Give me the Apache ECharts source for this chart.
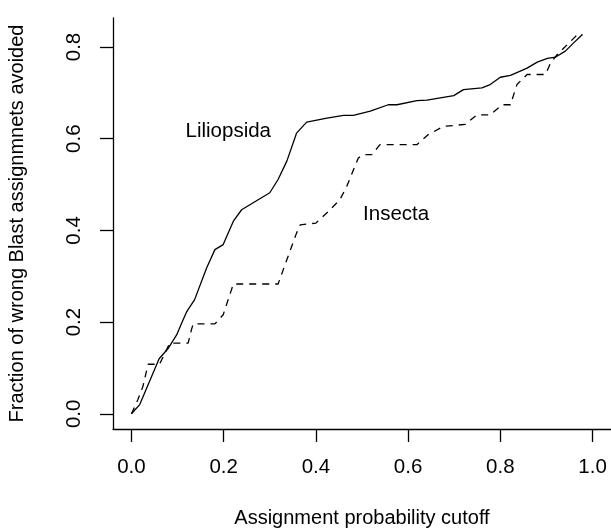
<!DOCTYPE html>
<html>
<head>
<meta charset="utf-8">
<script src="https://cdn.jsdelivr.net/npm/echarts@6/dist/echarts.min.js"></script>
<style>html,body{margin:0;padding:0;background:#fff}#c{width:611px;height:529px}</style>
</head>
<body>
<div id="c"></div>
<script>
const xTicks = [0, 0.2, 0.4, 0.6, 0.8, 1.0];
const yTicks = [0, 0.2, 0.4, 0.6, 0.8];

const lilioX = [0, 0.018, 0.06, 0.08, 0.098, 0.109, 0.12, 0.137, 0.163, 0.181, 0.199, 0.221, 0.239, 0.30, 0.318, 0.337, 0.358, 0.38, 0.424, 0.46, 0.481, 0.518, 0.557, 0.576, 0.619, 0.641, 0.699, 0.72, 0.76, 0.778, 0.80, 0.822, 0.858, 0.88, 0.902, 0.92, 0.941, 0.959, 0.978];
const lilioY = [0, 0.02, 0.12, 0.143, 0.172, 0.198, 0.223, 0.249, 0.318, 0.358, 0.369, 0.42, 0.445, 0.482, 0.511, 0.551, 0.612, 0.636, 0.645, 0.651, 0.651, 0.66, 0.674, 0.674, 0.683, 0.684, 0.694, 0.707, 0.711, 0.718, 0.734, 0.738, 0.754, 0.767, 0.775, 0.778, 0.791, 0.809, 0.827];

const insectaX = [0, 0.014, 0.025, 0.036, 0.061, 0.083, 0.123, 0.13, 0.134, 0.181, 0.199, 0.221, 0.318, 0.337, 0.358, 0.366, 0.40, 0.427, 0.452, 0.467, 0.492, 0.503, 0.521, 0.539, 0.619, 0.644, 0.677, 0.724, 0.749, 0.778, 0.804, 0.822, 0.836, 0.858, 0.898, 0.909, 0.923, 0.945, 0.967, 0.978];
const insectaY = [0, 0.031, 0.06, 0.108, 0.108, 0.154, 0.154, 0.183, 0.196, 0.196, 0.216, 0.283, 0.283, 0.336, 0.394, 0.412, 0.416, 0.441, 0.467, 0.496, 0.558, 0.565, 0.565, 0.587, 0.587, 0.609, 0.627, 0.631, 0.652, 0.652, 0.674, 0.674, 0.718, 0.74, 0.74, 0.765, 0.783, 0.805, 0.827, 0.827];

const labelNames = ['Liliopsida', 'Insecta'];
const labelX = [0.21, 0.574];
const labelY = [0.615, 0.436];

const FONT = 'Liberation Sans';
const zip = (a, b) => a.map((v, i) => [v, b[i]]);

const chart = echarts.init(document.getElementById('c'), null, {renderer: 'canvas'});
chart.setOption({
  animation: false,
  backgroundColor: '#fff',
  grid: {left: 113, right: 0, top: 18, bottom: 100, containLabel: false, outerBoundsMode: 'none'},
  xAxis: {
    type: 'value', min: -0.04, max: 1.04,
    name: 'Assignment probability cutoff', nameLocation: 'middle', nameGap: 79,
    nameTextStyle: {fontFamily: FONT, fontSize: 20, color: '#000'},
    axisLine: {show: true, onZero: false, lineStyle: {color: '#000', width: 1.3}},
    axisTick: {show: true, length: 13, customValues: xTicks, lineStyle: {color: '#000', width: 1.3}},
    axisLabel: {customValues: xTicks, margin: 28, fontFamily: FONT, fontSize: 20.5, color: '#000',
      formatter: v => v.toFixed(1)},
    splitLine: {show: false}
  },
  yAxis: {
    type: 'value', min: -0.0332, max: 0.8632,
    name: 'Fraction of wrong Blast assignmnets avoided', nameLocation: 'middle', nameGap: 86,
    nameTextStyle: {fontFamily: FONT, fontSize: 20, color: '#000'},
    axisLine: {show: true, onZero: false, lineStyle: {color: '#000', width: 1.3}},
    axisTick: {show: true, length: 13, customValues: yTicks, lineStyle: {color: '#000', width: 1.3}},
    axisLabel: {customValues: yTicks, rotate: 90, margin: 28, fontFamily: FONT, fontSize: 20.5, color: '#000',
      formatter: v => v.toFixed(1)},
    splitLine: {show: false}
  },
  series: [
    {name: 'Liliopsida', type: 'line', data: zip(lilioX, lilioY), showSymbol: false, symbol: 'none',
      lineStyle: {color: '#000', width: 1.3, type: 'solid'}},
    {name: 'Insecta', type: 'line', data: zip(insectaX, insectaY), showSymbol: false, symbol: 'none',
      lineStyle: {color: '#000', width: 1.3, type: [7, 6]}},
    {type: 'scatter', symbolSize: 0, itemStyle: {opacity: 1}, silent: true,
      data: labelNames.map((n, i) => ({name: n, value: [labelX[i], labelY[i]]})),
      label: {show: true, position: [0, 0], align: 'center', verticalAlign: 'middle',
        formatter: p => p.name, fontFamily: FONT, fontSize: 20.5, color: '#000', opacity: 1}}
  ]
});
</script>
</body>
</html>
